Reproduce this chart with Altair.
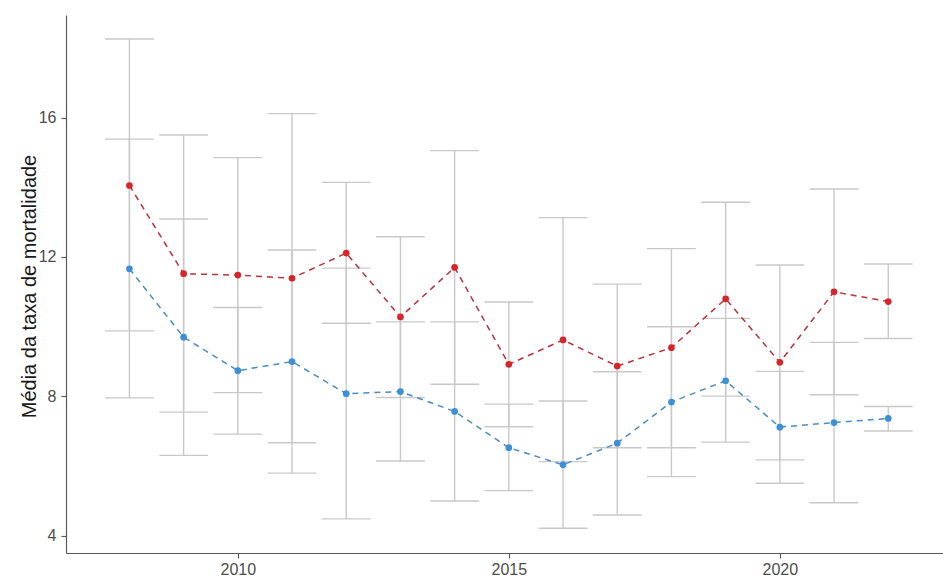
import altair as alt
import pandas as pd

# Anos da série
anos = list(range(2008, 2023))

# Série vermelha: média e limites do intervalo
media_verm = [14.05, 11.52, 11.48, 11.39, 12.11, 10.28, 11.70, 8.92, 9.62, 8.87, 9.40, 10.80, 8.98, 11.00, 10.72]
inf_verm = [9.88, 7.55, 8.11, 6.67, 10.10, 7.97, 8.35, 7.13, 6.13, 6.53, 6.53, 8.01, 6.18, 8.05, 9.66]
sup_verm = [18.25, 15.50, 14.85, 16.11, 14.14, 12.58, 15.05, 10.71, 13.13, 11.22, 12.24, 13.57, 11.77, 13.95, 11.80]

# Série azul: média e limites do intervalo
media_azul = [11.66, 9.70, 8.74, 9.00, 8.08, 8.14, 7.57, 6.53, 6.04, 6.66, 7.84, 8.45, 7.12, 7.25, 7.37]
inf_azul = [7.96, 6.31, 6.92, 5.80, 4.49, 6.15, 5.00, 5.30, 4.22, 4.60, 5.70, 6.69, 5.51, 4.95, 7.01]
sup_azul = [15.38, 13.09, 10.55, 12.20, 11.68, 10.14, 10.14, 7.78, 7.87, 8.71, 10.00, 10.24, 8.72, 9.55, 7.71]

series = ["vermelho", "azul"]
cores_ponto = ["#d7262b", "#3d8fd6"]
cores_linha = ["#b8323a", "#4a8bc6"]

df = pd.concat([
    pd.DataFrame({"ano": anos, "media": media_verm, "inf": inf_verm, "sup": sup_verm, "serie": "vermelho"}),
    pd.DataFrame({"ano": anos, "media": media_azul, "inf": inf_azul, "sup": sup_azul, "serie": "azul"}),
])

x_scale = alt.Scale(domain=[2006.83, 2023.01], nice=False, zero=False)
y_scale = alt.Scale(domain=[3.51, 18.94], nice=False, zero=False)

x_axis = alt.Axis(
    values=[2010, 2015, 2020], format="d", title=None, grid=False,
    domainColor="#5a5a5a", domainWidth=1.2, tickColor="#5a5a5a", tickWidth=1.2,
    tickSize=5, labelPadding=3, labelColor="#4d4d4d", labelFontSize=16,
    labelFont="Liberation Sans",
)
y_axis = alt.Axis(
    values=[4, 8, 12, 16], title="Média da taxa de mortalidade", grid=False,
    domainColor="#5a5a5a", domainWidth=1.2, tickColor="#5a5a5a", tickWidth=1.2,
    tickSize=5, labelPadding=5, labelColor="#4d4d4d", labelFontSize=16,
    labelFont="Liberation Sans", titleFont="Liberation Sans", titleFontSize=20,
    titleFontWeight="normal", titleColor="#1a1a1a", titleAngle=270,
    titleX=-31, titleY=271, titleAlign="center", titleBaseline="alphabetic",
)

cor = alt.Color("serie:N", scale=alt.Scale(domain=series, range=cores_ponto), legend=None)
cor_linha = alt.Color("serie:N", scale=alt.Scale(domain=series, range=cores_linha), legend=None)

base = alt.Chart(df).transform_calculate(
    x0="datum.ano - 0.45", x1="datum.ano + 0.45"
)

barra = base.mark_rule(color="#c9c9c9", strokeWidth=1.4).encode(
    x=alt.X("ano:Q", scale=x_scale, axis=x_axis),
    y=alt.Y("inf:Q", scale=y_scale, axis=y_axis),
    y2="sup:Q",
)
tampa_inf = base.mark_rule(color="#c9c9c9", strokeWidth=1.4).encode(
    x=alt.X("x0:Q", scale=x_scale), x2="x1:Q",
    y=alt.Y("inf:Q", scale=y_scale),
)
tampa_sup = base.mark_rule(color="#c9c9c9", strokeWidth=1.4).encode(
    x=alt.X("x0:Q", scale=x_scale), x2="x1:Q",
    y=alt.Y("sup:Q", scale=y_scale),
)
linha = base.mark_line(strokeDash=[6, 5], strokeWidth=1.5).encode(
    x=alt.X("ano:Q", scale=x_scale),
    y=alt.Y("media:Q", scale=y_scale),
    color=cor_linha,
    detail="serie:N",
)
pontos = base.mark_point(filled=True, size=45, opacity=1).encode(
    x=alt.X("ano:Q", scale=x_scale),
    y=alt.Y("media:Q", scale=y_scale),
    color=cor,
)

chart = alt.layer(barra, tampa_inf, tampa_sup, linha, pontos).resolve_scale(
    color="independent"
).properties(
    width=877, height=538,
    autosize=alt.AutoSizeParams(type="none"),
    padding={"left": 66, "top": 15, "right": 0, "bottom": 25},
    background="white",
).configure_view(stroke=None)

chart.save("out.html", embed_options={"renderer": "svg", "actions": False})
